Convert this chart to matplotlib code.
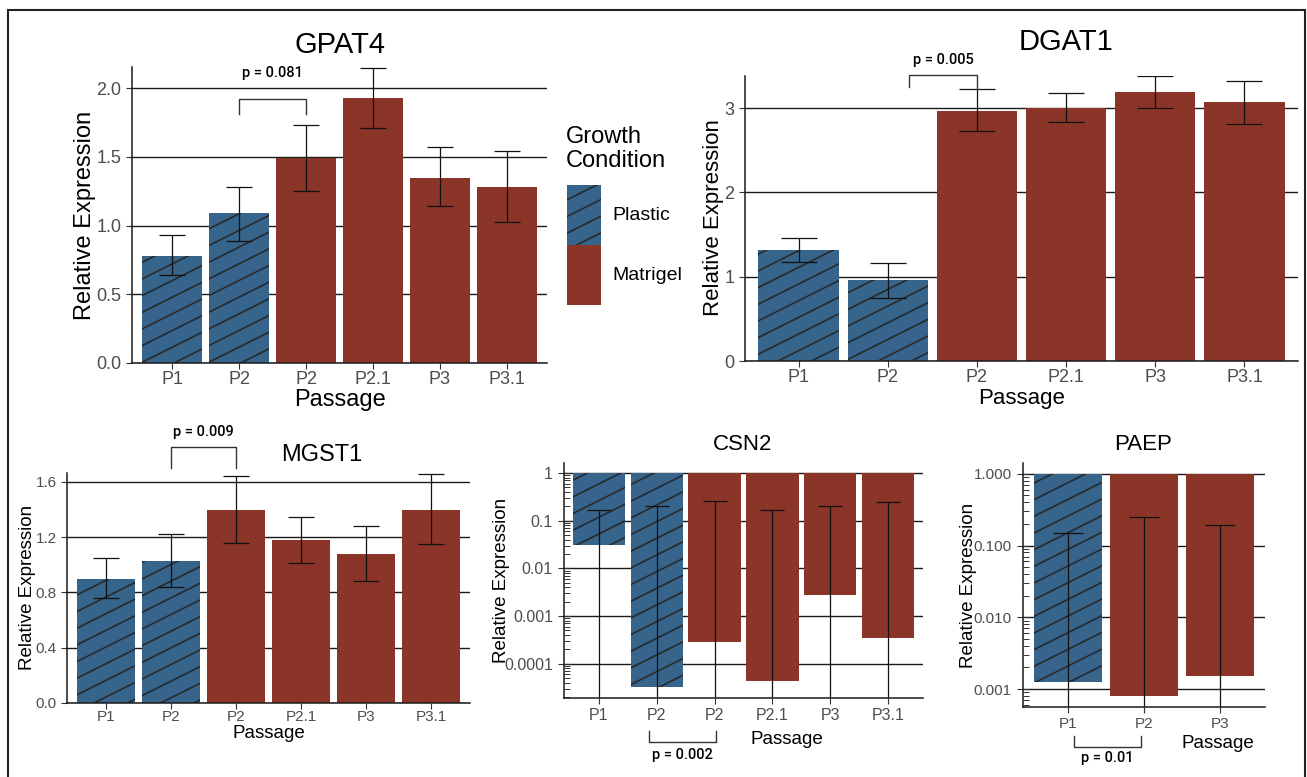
import numpy as np
import matplotlib
matplotlib.use("Agg")
import matplotlib.pyplot as plt
import matplotlib.hatch as mhatch
import matplotlib.transforms as mtransforms
from matplotlib.path import Path
from matplotlib.patches import Patch, Rectangle
from matplotlib.ticker import FixedLocator, FormatStrFormatter, LogLocator, NullFormatter

W, H = 1307, 777
BLUE = "#36648B"
RED = "#8B3528"
TXT = "#4D4D4D"

# ---- data ----
passages6 = ["P1", "P2", "P2", "P2.1", "P3", "P3.1"]
cond6 = ["Plastic", "Plastic", "Matrigel", "Matrigel", "Matrigel", "Matrigel"]
passages3 = ["P1", "P2", "P3"]
cond3 = ["Plastic", "Matrigel", "Matrigel"]

gpat4_mean = [0.78, 1.09, 1.49, 1.93, 1.35, 1.28]
gpat4_lo = [0.64, 0.89, 1.25, 1.71, 1.14, 1.03]
gpat4_hi = [0.93, 1.28, 1.73, 2.15, 1.57, 1.54]

dgat1_mean = [1.32, 0.96, 2.97, 3.00, 3.19, 3.07]
dgat1_lo = [1.17, 0.75, 2.73, 2.84, 3.00, 2.81]
dgat1_hi = [1.46, 1.16, 3.22, 3.18, 3.38, 3.32]

mgst1_mean = [0.90, 1.03, 1.40, 1.18, 1.08, 1.40]
mgst1_lo = [0.76, 0.84, 1.16, 1.01, 0.88, 1.15]
mgst1_hi = [1.05, 1.22, 1.64, 1.35, 1.28, 1.66]

csn2_mean = [0.031, 3.2e-5, 2.8e-4, 4.4e-5, 0.0028, 3.5e-4]
csn2_hi = [0.17, 0.20, 0.26, 0.17, 0.20, 0.25]

paep_mean = [0.00126, 0.00079, 0.0015]
paep_hi = [0.15, 0.25, 0.195]

# p-value brackets: (x_left, x_right, label)
gpat4_p = (2.0, 3.0, "p = 0.081")
dgat1_p = (2.24, 3.0, "p = 0.005")
mgst1_p = (2.0, 3.0, "p = 0.009")
csn2_p = (1.87, 3.03, "p = 0.002")
paep_p = (1.07, 1.96, "p = 0.01")


# shallow "/" stripes (about 27 deg) instead of the 45 deg default
class ShallowHatch(mhatch.HatchPatternBase):
    def __init__(self, hatch, density):
        n = int(hatch.count("/") * density)
        self.offsets = np.arange(-(n // 2), n + 1) / n if n else np.array([])
        self.num_vertices = 2 * len(self.offsets)

    def set_vertices_and_codes(self, vertices, codes):
        c = self.offsets
        vertices[0::2, 0] = 0.0
        vertices[0::2, 1] = c
        vertices[1::2, 0] = 1.0
        vertices[1::2, 1] = c + 0.5
        codes[0::2] = Path.MOVETO
        codes[1::2] = Path.LINETO


mhatch._hatch_types[mhatch._hatch_types.index(mhatch.NorthEastHatch)] = ShallowHatch

plt.rcParams["font.family"] = ["Liberation Sans", "DejaVu Sans"]
plt.rcParams["hatch.color"] = "#262626"
plt.rcParams["hatch.linewidth"] = 1.1

fig = plt.figure(figsize=(W / 100, H / 100), dpi=100)


def px_axes(x0, y0, x1, y1):
    return fig.add_axes([x0 / W, 1 - y1 / H, (x1 - x0) / W, (y1 - y0) / H])


def ftext(x, y, s, size, **kw):
    kw.setdefault("ha", "center")
    fig.text(x / W, 1 - y / H, s, fontsize=size, va="center", **kw)


def style(ax, n, labels, tick_size, xpad):
    for s in ["top", "right"]:
        ax.spines[s].set_visible(False)
    for s in ["left", "bottom"]:
        ax.spines[s].set_color("#1A1A1A")
        ax.spines[s].set_linewidth(1.1)
    ax.grid(axis="y", which="major", color="#1A1A1A", lw=1.0)
    ax.set_axisbelow(True)
    ax.set_xlim(0.4, n + 0.6)
    ax.set_xticks(np.arange(1, n + 1))
    ax.set_xticklabels(labels)
    ax.tick_params(which="major", colors="#333333", labelcolor=TXT,
                   labelsize=tick_size, length=4, width=0.8)
    ax.tick_params(axis="x", pad=xpad)


def bars(ax, x, height, bottom, conds):
    colors = [BLUE if c == "Plastic" else RED for c in conds]
    rects = ax.bar(x, height, width=0.9, bottom=bottom, color=colors, linewidth=0)
    for r, c in zip(rects, conds):
        if c == "Plastic":
            r.set_hatch("/")


def linear_panel(ax, mean, lo, hi, conds, labels, ymax, ticks, fmt, tick_size, cap, xpad=3.5):
    n = len(mean)
    x = np.arange(1, n + 1)
    mean = np.array(mean)
    bars(ax, x, mean, 0, conds)
    ax.errorbar(x, mean, yerr=[mean - np.array(lo), np.array(hi) - mean],
                fmt="none", ecolor="#111111", elinewidth=0.9, capsize=cap, capthick=0.9)
    style(ax, n, labels, tick_size, xpad)
    ax.set_ylim(0, ymax)
    ax.set_yticks(ticks)
    ax.yaxis.set_major_formatter(FormatStrFormatter(fmt))


def log_panel(ax, mean, hi, conds, labels, ylim, ticks, ticklabels, tick_size, cap):
    n = len(mean)
    x = np.arange(1, n + 1)
    mean = np.array(mean)
    hi = np.array(hi)
    ax.set_yscale("log")
    bars(ax, x, mean - 1, 1, conds)
    floor = ylim[0] / 10
    ax.errorbar(x, hi, yerr=[hi - floor, np.zeros(n)],
                fmt="none", ecolor="#111111", elinewidth=0.9, capsize=cap, capthick=0.9)
    style(ax, n, labels, tick_size, 3.5)
    ax.set_ylim(*ylim)
    ax.yaxis.set_major_locator(FixedLocator(ticks))
    ax.set_yticklabels(ticklabels)
    ax.yaxis.set_minor_locator(LogLocator(base=10, subs=np.arange(2, 10)))
    ax.yaxis.set_minor_formatter(NullFormatter())
    ax.tick_params(axis="y", which="major", direction="inout", length=9)
    ax.tick_params(axis="y", which="minor", direction="in", length=4, width=0.7,
                   colors="#333333")


def bracket_above(ax, p, y_top, y_left, y_right, y_text):
    x0, x1, label = p
    ax.plot([x0, x0, x1, x1], [y_left, y_top, y_top, y_right], color="#333333",
            lw=1.0, clip_on=False)
    ax.text((x0 + x1) / 2, y_text, label, ha="center", va="center", fontsize=10.5,
            family="Roboto", fontweight="medium", clip_on=False)


def bracket_below(ax, p, y_line, y_leg, y_text):
    x0, x1, label = p
    tr = mtransforms.blended_transform_factory(ax.transData, ax.transAxes)
    ax.plot([x0, x0, x1, x1], [y_leg, y_line, y_line, y_leg], color="#333333",
            lw=1.0, clip_on=False, transform=tr)
    ax.text((x0 + x1) / 2, y_text, label, ha="center", va="center", fontsize=10.5,
            family="Roboto", fontweight="medium", transform=tr, clip_on=False)


# ---- GPAT4 ----
ax1 = px_axes(132, 67, 547, 363)
linear_panel(ax1, gpat4_mean, gpat4_lo, gpat4_hi, cond6, passages6, 2.155,
             [0, 0.5, 1.0, 1.5, 2.0], "%.1f", 13, 9.5, xpad=1.5)
bracket_above(ax1, gpat4_p, 1.92, 1.81, 1.81, 2.11)
ftext(340, 45, "GPAT4", 21)
ftext(85, 215, "Relative Expression", 17, rotation=90)
ftext(340, 400, "Passage", 17)

# ---- DGAT1 ----
ax2 = px_axes(745, 76, 1298, 361)
linear_panel(ax2, dgat1_mean, dgat1_lo, dgat1_hi, cond6, passages6, 3.38,
             [0, 1, 2, 3], "%d", 13, 13, xpad=2.0)
bracket_above(ax2, dgat1_p, 3.39, 3.25, 3.22, 3.57)
ftext(1066, 42, "DGAT1", 21)
ftext(714, 218, "Relative Expression", 16, rotation=90)
ftext(1022, 398, "Passage", 16)

# ---- MGST1 ----
ax3 = px_axes(67, 473, 470, 703)
linear_panel(ax3, mgst1_mean, mgst1_lo, mgst1_hi, cond6, passages6, 1.665,
             [0, 0.4, 0.8, 1.2, 1.6], "%.1f", 11, 9.5, xpad=1.0)
bracket_above(ax3, mgst1_p, 1.85, 1.70, 1.70, 1.96)
ftext(322, 455, "MGST1", 17)
ftext(28, 587, "Relative Expression", 13.5, rotation=90)
ftext(269, 733, "Passage", 13.5)

# ---- CSN2 ----
ax4 = px_axes(564, 463, 923, 698)
log_panel(ax4, csn2_mean, csn2_hi, cond6, passages6, (10 ** -4.72, 10 ** 0.21),
          [1, 0.1, 0.01, 0.001, 0.0001], ["1", "0.1", "0.01", "0.001", "0.0001"], 11.5, 8.5)
bracket_below(ax4, csn2_p, -0.187, -0.14, -0.243)
ftext(743, 444, "CSN2", 16)
ftext(502, 580, "Relative Expression", 13.5, rotation=90)
ftext(787, 740, "Passage", 13.5)

# ---- PAEP ----
ax5 = px_axes(1023, 463, 1265, 707)
log_panel(ax5, paep_mean, paep_hi, cond3, passages3, (10 ** -3.25, 10 ** 0.15),
          [1, 0.1, 0.01, 0.001], ["1.000", "0.100", "0.010", "0.001"], 11, 11)
bracket_below(ax5, paep_p, -0.164, -0.119, -0.209)
ftext(1143, 445, "PAEP", 16)
ftext(968, 585, "Relative Expression", 13.5, rotation=90)
ftext(1218, 744, "Passage", 13.5)

# ---- legend ----
ftext(566, 149, "Growth\nCondition", 17, ha="left", linespacing=1.15)
handles = [Patch(facecolor=BLUE, hatch="/", linewidth=0),
           Patch(facecolor=RED, linewidth=0)]
fig.legend(handles, ["Plastic", "Matrigel"],
           loc="upper left", bbox_to_anchor=(567 / W, 1 - 185 / H), frameon=False,
           fontsize=14, handlelength=1.75, handleheight=4.37,
           labelspacing=0, handletextpad=0.6, borderpad=0, borderaxespad=0)

# outer frame (open at the bottom, cut off in the original)
fig.add_artist(Rectangle((8 / W, -0.05), (1305 - 8) / W, 1.05 - 10 / H,
                         transform=fig.transFigure, fill=False, lw=1.5, ec="#222222"))

fig.savefig("out.png", dpi=100)
